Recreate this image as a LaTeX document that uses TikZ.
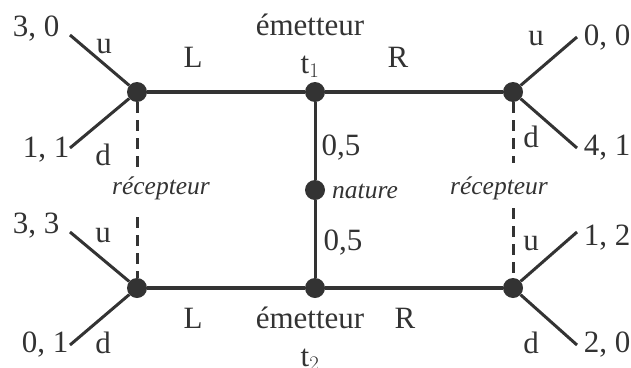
\documentclass[tikz,border=0pt]{standalone}
\usepackage{fontspec}
\setmainfont{Liberation Serif}
\usepackage{tikz}
\usetikzlibrary{positioning, calc}
\definecolor{ink}{HTML}{333333}

\begin{document}
\begin{tikzpicture}[x=1pt, y=-1pt, ink,
    every node/.style={inner sep=0pt, text=ink},
    txt/.style={font=\fontsize{31}{36}\selectfont, anchor=base},
    itl/.style={font=\fontsize{25.5}{30}\selectfont\itshape, anchor=base},
    dot/.style={circle, fill=ink, minimum size=20pt},
    edge/.style={line width=3.5pt},
    leaf/.style={line width=3pt},
    info/.style={line width=3pt, dash pattern=on 11pt off 7pt}]
  \useasboundingbox (0,0) rectangle (631,367);
  % decision nodes
  \node[dot] (rL1) at (137,92) {};
  \node[dot] (rL2) at (137,288) {};
  \node[dot] (e1)  at (315,92) {};
  \node[dot] (nat) at (315,190) {};
  \node[dot] (e2)  at (315,288) {};
  \node[dot] (rR1) at (513,92) {};
  \node[dot] (rR2) at (513,288) {};
  % sender moves and chance
  \draw[edge] (rL1) -- (e1) -- (rR1);
  \draw[edge] (rL2) -- (e2) -- (rR2);
  \draw[leaf] (e1) -- (nat) -- (e2);
  % receiver moves to the payoffs
  \foreach \src/\x/\y/\nm in {rL1/70/35/z1, rL1/70/148/z2, rL2/70/232/z3, rL2/70/345/z4,
                              rR1/577/37/z5, rR1/577/148/z6, rR2/577/232/z7, rR2/577/345/z8}{
    \coordinate (\nm) at (\x,\y);
    \draw[leaf] (\src) -- (\nm);
  }
  \foreach \nm/\x/\y/\pay in {p1/36/36/{3, 0}, p2/46/157/{1, 1}, p3/36/233/{3, 3}, p4/45/352/{0, 1},
                              p5/607/45/{0, 0}, p6/607/155/{4, 1}, p7/607/245/{1, 2}, p8/607/352/{2, 0}}{
    \node[txt] (\nm) at (\x,\y) {\pay};
  }
  % action labels
  \foreach \nm/\x/\y/\lab in {a1/104/53/u, a2/103/165/d, a3/103/242/u, a4/103/353/d,
                              a5/536/45/u, a6/531/147/d, a7/531/250/u, a8/531/353/d,
                              m1/193/67/L, m2/193/328/L, m3/398/67/R, m4/405/328/R}{
    \node[txt] (\nm) at (\x,\y) {\lab};
  }
  % players
  \node[txt] (em1) at (310,35) {émetteur};
  \node[txt] (ty1) at (310,73) {t$_1$};
  \node[txt] (em2) at (310,328) {émetteur};
  \node[txt] (ty2) at (310,366) {t$_2$};
  \node[txt] (pr1) at (341,155) {0,5};
  \node[txt] (pr2) at (343,250) {0,5};
  \node[itl, anchor=base west] (natlab) at (332,198) {nature};
  % information sets
  \node[itl] (recL) at (161,194) {récepteur};
  \node[itl] (recR) at (499,194) {récepteur};
  \coordinate (iL1) at (137,173);
  \coordinate (iL2) at (137,217);
  \coordinate (iR1) at (513,163);
  \coordinate (iR2) at (513,208);
  \draw[info] (rL1) -- (iL1);
  \draw[info] (iL2) -- (rL2);
  \draw[info] (rR1) -- (iR1);
  \draw[info] (iR2) -- (rR2);
\end{tikzpicture}
\end{document}
